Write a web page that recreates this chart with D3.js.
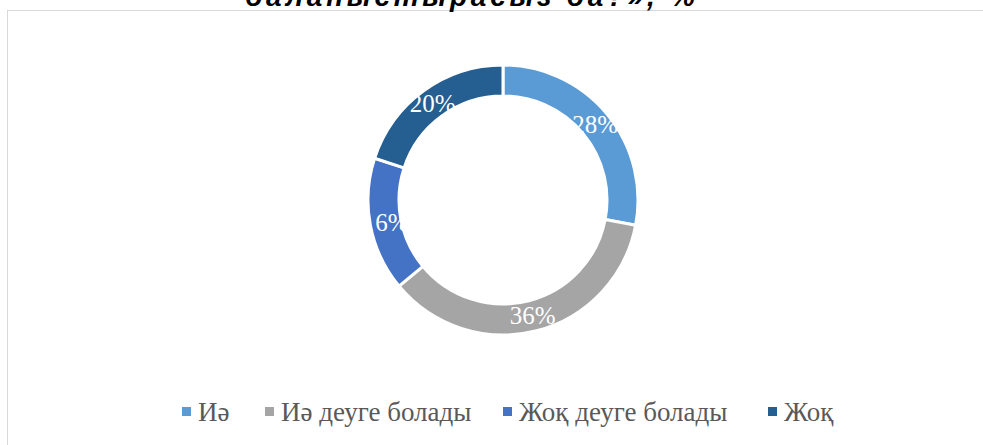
<!DOCTYPE html>
<html>
<head>
<meta charset="utf-8">
<script src="https://cdn.jsdelivr.net/npm/d3@7"></script>
<style>
  body { margin: 0; background: #fff; }
  svg { display: block; }
</style>
</head>
<body>
<div id="chart"></div>
<script>
// chart data
var categories = ["Иә", "Иә деуге болады", "Жоқ деуге болады", "Жоқ"];
var values = [28, 36, 16, 20];
var colors = ["#5b9bd5", "#a5a5a5", "#4472c4", "#255e91"];
var titleText = "баланыстырасыз ба?», %";

var width = 983, height = 445;
var cx = 503, cy = 200;
var outerR = 135, innerR = 104;

var svg = d3.select("#chart")
    .append("svg")
    .attr("width", width)
    .attr("height", height);

// chart frame
svg.append("rect")
    .attr("x", 7.5)
    .attr("y", 10.5)
    .attr("width", width)
    .attr("height", height)
    .style("fill", "none")
    .style("stroke", "#d9d9d9")
    .style("stroke-width", 1);

// title (top part is off the page, as in the original)
svg.append("text")
    .attr("x", 470)
    .attr("y", 6)
    .attr("text-anchor", "middle")
    .attr("textLength", 450)
    .style("font-family", "'Liberation Sans', Arial, sans-serif")
    .style("font-weight", "bold")
    .style("font-style", "italic")
    .style("font-size", "28px")
    .style("fill", "#000")
    .text(titleText);

var pie = d3.pie().sort(null).value(function(d) { return d; });
var arc = d3.arc().innerRadius(innerR).outerRadius(outerR);

var g = svg.append("g")
    .attr("transform", "translate(" + cx + "," + cy + ")");

g.selectAll("path.slice")
    .data(pie(values))
    .enter().append("path")
    .attr("class", "slice")
    .attr("d", arc)
    .style("fill", function(d, i) { return colors[i]; })
    .style("stroke", "#fff")
    .style("stroke-width", 3);

// plot area clip for labels (cuts the "1" of 16% like the original)
svg.append("clipPath")
    .attr("id", "plotClip")
    .append("rect")
    .attr("x", -129)
    .attr("y", -outerR - 20)
    .attr("width", 2 * outerR + 40)
    .attr("height", 2 * outerR + 60);

g.append("g")
    .attr("clip-path", "url(#plotClip)")
    .selectAll("text")
    .data(pie(values))
    .enter().append("text")
    .attr("transform", function(d) { return "translate(" + arc.centroid(d) + ")"; })
    .attr("text-anchor", "middle")
    .attr("dy", "0.35em")
    .style("font-family", "'Liberation Serif', 'Times New Roman', serif")
    .style("font-size", "25px")
    .style("fill", "#fff")
    .text(function(d) { return d.value + "%"; });

// legend
var legendX = [182, 265, 503, 768];
var legend = svg.append("g");
var items = legend.selectAll("g")
    .data(categories)
    .enter().append("g")
    .attr("transform", function(d, i) { return "translate(" + legendX[i] + ",412)"; });

items.append("rect")
    .attr("x", 0)
    .attr("y", -5)
    .attr("width", 9)
    .attr("height", 9)
    .style("fill", function(d, i) { return colors[i]; });

items.append("text")
    .attr("x", 16)
    .attr("dy", "0.35em")
    .style("font-family", "'Liberation Serif', 'Times New Roman', serif")
    .style("font-size", "27px")
    .style("fill", "#595959")
    .text(function(d) { return d; });
</script>
</body>
</html>
